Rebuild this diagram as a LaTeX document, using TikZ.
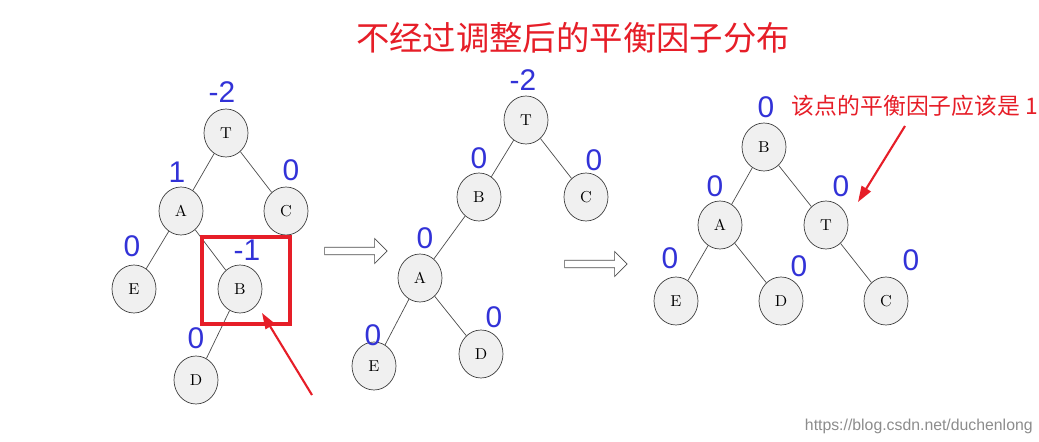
\documentclass[tikz,border=0pt]{standalone}
\usepackage{fontspec}
\newfontfamily\cjk{Noto Sans CJK SC}
\newfontfamily\sans{Liberation Sans}
\usetikzlibrary{shapes.geometric,arrows.meta,shapes.arrows}
\definecolor{bf}{RGB}{50,50,215}
\definecolor{rd}{RGB}{230,30,40}
\begin{document}
\begin{tikzpicture}[x=0.02cm,y=-0.02cm,
 tn/.style={ellipse,draw=black!75,fill=black!6,minimum width=0.88cm,minimum height=0.96cm,inner sep=0pt,font=\small},
 bal/.style={text=bf,font=\sans\fontsize{17}{17}\selectfont},
 ed/.style={draw=black!70},
 ha/.style={single arrow,draw=black!70,fill=white,minimum height=1.25cm,minimum width=0.5cm,single arrow head extend=0.1cm,inner sep=1pt},
 ra/.style={draw=rd,line width=1.2pt,-{Triangle[length=9pt,width=6pt]}}]
\useasboundingbox (0,0) rectangle (1039,442);
\node[text=rd,font=\cjk\fontsize{19}{19}\selectfont] (ttl) at (573,38) {不经过调整后的平衡因子分布};
% tree 1
\node[tn] (T1) at (226,133) {T};
\node[tn] (A1) at (181,211) {A};
\node[tn] (C1) at (286,211) {C};
\node[tn] (E1) at (134,289) {E};
\node[tn] (B1) at (240,289) {B};
\node[tn] (D1) at (196,380) {D};
\draw[ed] (T1)--(A1) (T1)--(C1) (A1)--(E1) (A1)--(B1) (B1)--(D1);
\node[bal] (l1) at (222,92) {-2};
\node[bal] (l2) at (177,172) {1};
\node[bal] (l3) at (291,170) {0};
\node[bal] (l4) at (132,246) {0};
\node[bal] (l5) at (247,250) {-1};
\node[bal] (l6) at (196,338) {0};
\draw[rd,line width=2.2pt] (202,237) rectangle (290,324);
\coordinate (r1) at (312,395);
\coordinate (r2) at (262,313);
\draw[ra] (r1)--(r2);
\node[ha] (h1) at (354,251) {};
\node[ha] (h2) at (594,264) {};
% tree 2
\node[tn] (T2) at (526,120) {T};
\node[tn] (B2) at (479,197) {B};
\node[tn] (C2) at (586,197) {C};
\node[tn] (A2) at (420,278) {A};
\node[tn] (E2) at (374,366) {E};
\node[tn] (D2) at (481,354) {D};
\draw[ed] (T2)--(B2) (T2)--(C2) (B2)--(A2) (A2)--(E2) (A2)--(D2);
\node[bal] (m1) at (523,80) {-2};
\node[bal] (m2) at (479,158) {0};
\node[bal] (m3) at (594,160) {0};
\node[bal] (m4) at (425,238) {0};
\node[bal] (m5) at (373,335) {0};
\node[bal] (m6) at (494,317) {0};
% tree 3
\node[tn] (B3) at (764,147) {B};
\node[tn] (A3) at (720,225) {A};
\node[tn] (T3) at (826,225) {T};
\node[tn] (E3) at (676,301) {E};
\node[tn] (D3) at (781,301) {D};
\node[tn] (C3) at (886,301) {C};
\draw[ed] (B3)--(A3) (B3)--(T3) (A3)--(E3) (A3)--(D3) (T3)--(C3);
\node[bal] (n1) at (766,107) {0};
\node[bal] (n2) at (715,186) {0};
\node[bal] (n3) at (841,186) {0};
\node[bal] (n4) at (670,258) {0};
\node[bal] (n5) at (799,266) {0};
\node[bal] (n6) at (911,260) {0};
\node[text=rd,font=\cjk\fontsize{13}{13}\selectfont] (note) at (915,106) {该点的平衡因子应该是 1};
\coordinate (s1) at (905,126);
\coordinate (s2) at (858,202);
\draw[ra] (s1)--(s2);
\node[text=black!45,font=\sans\fontsize{9}{9}\selectfont,anchor=east,inner sep=0pt] (wm) at (1033,426) {https://blog.csdn.net/duchenlong};
\end{tikzpicture}
\end{document}
